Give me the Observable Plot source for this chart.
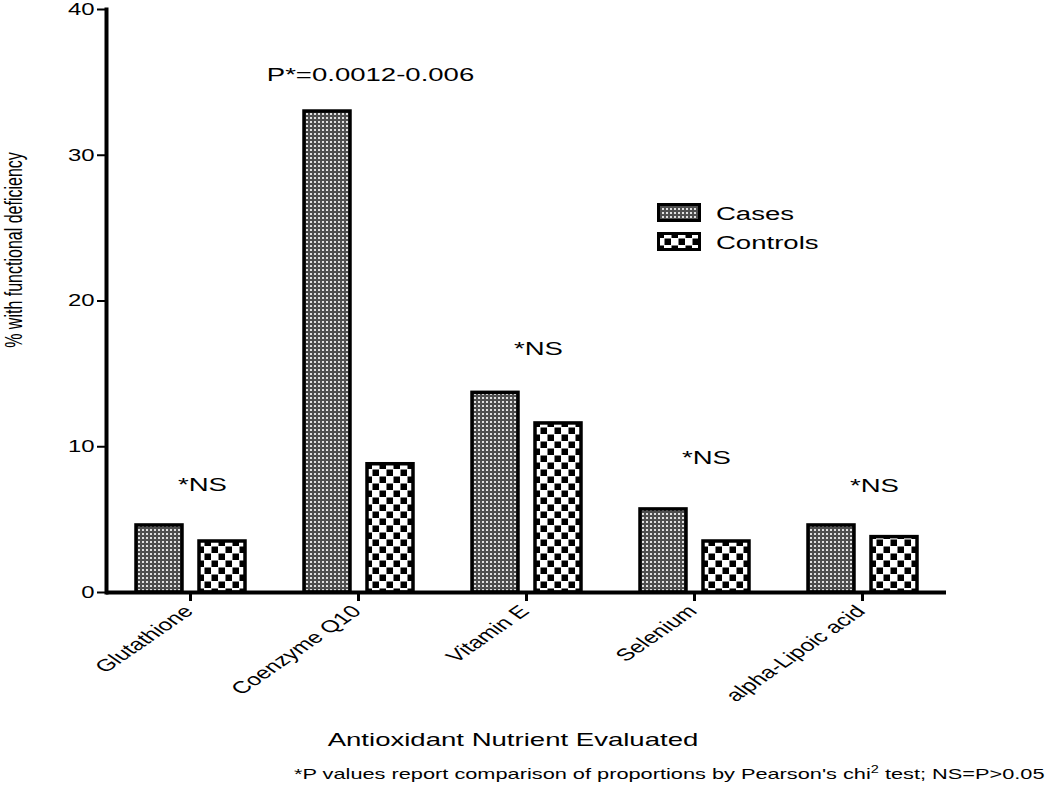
<!DOCTYPE html>
<html><head><meta charset="utf-8">
<script src="https://cdn.jsdelivr.net/npm/d3@7"></script>
<script src="https://cdn.jsdelivr.net/npm/@observablehq/plot@0.6"></script>
<style>
body{margin:0;background:#fff;font-family:"Liberation Sans",Arial,sans-serif;color:#000;}
#wrap{position:relative;width:1050px;height:791px;overflow:hidden;}
#ylab{position:absolute;left:15px;top:250px;transform:translate(-50%,-50%) scaleX(1.45) rotate(-90deg);white-space:nowrap;font-size:16px;line-height:1;}
#xlab{position:absolute;left:-12px;width:1050px;top:729px;text-align:center;font-size:19px;line-height:1.2;transform:scaleX(1.45);}
#foot{position:absolute;left:294px;top:765px;white-space:nowrap;font-size:15px;line-height:1.2;transform-origin:left center;transform:scaleX(1.45);}
#foot sup{font-size:10px;vertical-align:6px;line-height:0;}
</style></head><body>
<svg width="0" height="0" style="position:absolute">
  <defs>
    <pattern id="patCases" width="4" height="4" patternUnits="userSpaceOnUse">
      <rect width="4" height="4" fill="#4e4e4e"/>
      <rect x="1" y="1" width="2" height="2" fill="#e0e0e0"/>
    </pattern>
    <pattern id="patControls" width="14" height="14" patternUnits="userSpaceOnUse">
      <rect width="14" height="14" fill="#fff"/>
      <rect x="0.5" y="0.5" width="6.5" height="6.5" fill="#000"/>
      <rect x="7.5" y="7.5" width="6.5" height="6.5" fill="#000"/>
    </pattern>
  </defs>
</svg>
<div id="wrap">
  <div id="ylab">% with functional deficiency</div>
  <div id="xlab">Antioxidant Nutrient Evaluated</div>
  <div id="foot">*P values report comparison of proportions by Pearson's chi<sup>2</sup> test; NS=P&gt;0.05</div>
</div>
<script>
const categories = ["Glutathione", "Coenzyme Q10", "Vitamin E", "Selenium", "alpha-Lipoic acid"];
const series = ["Cases", "Controls"];
const casesValues = [4.6, 33.0, 13.7, 5.7, 4.6];
const controlsValues = [3.5, 8.8, 11.6, 3.5, 3.8];
const annotationText = ["*NS", "P*=0.0012-0.006", "*NS", "*NS", "*NS"];
const annotationY = [7.4, 35.5, 16.7, 9.2, 7.3];
const yTicks = [0, 10, 20, 30, 40];

const bars = [];
categories.forEach((c, i) => {
  bars.push({category: c, series: "Cases", value: casesValues[i]});
  bars.push({category: c, series: "Controls", value: controlsValues[i]});
});
const notes = categories.map((c, i) => ({category: c, text: annotationText[i], y: annotationY[i]}));

const plot = Plot.plot({
  width: 1050,
  height: 720,
  marginTop: 9,
  marginLeft: 105,
  marginRight: 103,
  marginBottom: 128,
  style: {fontFamily: "'Liberation Sans', Arial, sans-serif", background: "transparent"},
  fx: {domain: categories, padding: 0, label: null},
  x: {domain: series, paddingInner: 0.27, paddingOuter: 0.45, axis: null},
  y: {domain: [0, 40], label: null},
  color: {type: "ordinal", domain: series, range: ["url(#patCases)", "url(#patControls)"]},
  marks: [
    Plot.barY(bars, {fx: "category", x: "series", y: "value", fill: "series", stroke: "#000", strokeWidth: 3.5}),
    Plot.text(notes, {fx: "category", y: "y", text: "text", dx: 12, fontSize: 19, fill: "#000"}),
    Plot.ruleY([0], {stroke: "#000", strokeWidth: 4}),
    Plot.frame({anchor: "left", facetAnchor: "left", stroke: "#000", strokeWidth: 4}),
    Plot.axisY({ticks: yTicks, tickSize: 9, tickPadding: 3, fontSize: 16.5, strokeWidth: 2, label: null, tickFormat: d => d}),
    Plot.axisFx({anchor: "bottom", tickRotate: -45, tickSize: 9, tickPadding: 7, fontSize: 17, strokeWidth: 3, label: null})
  ]
});
document.getElementById("wrap").prepend(plot);

// legend
const svg = d3.select(plot);
const color = plot.scale("color");
const lg = svg.append("g").attr("transform", "translate(657,203)");
series.forEach((s, i) => {
  lg.append("rect").attr("x", 1.5).attr("y", i * 29 + 1.5).attr("width", 41).attr("height", 16)
    .attr("fill", color.apply(s)).attr("stroke", "#000").attr("stroke-width", 3);
  lg.append("text").attr("x", 59).attr("y", i * 29 + 17).attr("font-size", 19).attr("text-anchor", "start").attr("fill", "#000").text(s);
});

// horizontal stretch of all texts (the reference is widened horizontally)
const S = 1.45;
plot.querySelectorAll("text").forEach(t => {
  const x = t.x.baseVal.length ? t.x.baseVal[0].value : 0;
  const y = t.y.baseVal.length ? t.y.baseVal[0].value : 0;
  const tl = t.transform.baseVal.consolidate();
  const m = tl ? tl.matrix : new DOMMatrix();
  const px = m.a * x + m.c * y + m.e, py = m.b * x + m.d * y + m.f;
  const old = t.getAttribute("transform") || "";
  t.setAttribute("transform", `translate(${px},${py}) scale(${S},1) translate(${-px},${-py}) ${old}`);
});
</script>
</body></html>
